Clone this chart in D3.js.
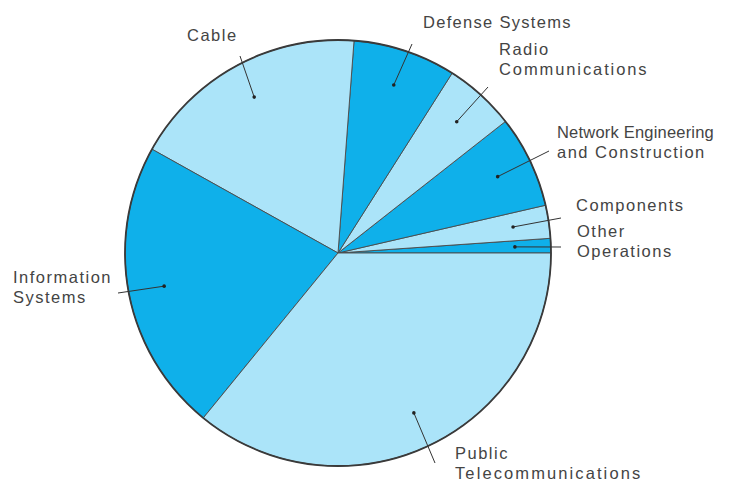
<!DOCTYPE html>
<html>
<head>
<meta charset="utf-8">
<script src="https://cdn.jsdelivr.net/npm/d3@7"></script>
<style>
  html, body { margin: 0; padding: 0; background: #ffffff; }
  svg { display: block; }
  .label { font-family: "Liberation Sans", Arial, Helvetica, sans-serif; font-size: 16.5px; fill: #444; }
</style>
</head>
<body>
<svg id="chart" width="741" height="483"></svg>
<script>
// Revenue shares by business segment (percent), in drawing order
// counter-clockwise from the 3 o'clock position.
const categories = [
  "Other Operations",
  "Components",
  "Network Engineering and Construction",
  "Radio Communications",
  "Defense Systems",
  "Cable",
  "Information Systems",
  "Public Telecommunications"
];
const shares = [1.1, 2.5, 7.0, 5.4, 7.8, 18.1, 22.2, 35.9];

// Label text, one entry per line
const labelLines = [
  ["Other", "Operations"],
  ["Components"],
  ["Network Engineering", "and Construction"],
  ["Radio", "Communications"],
  ["Defense Systems"],
  ["Cable"],
  ["Information", "Systems"],
  ["Public", "Telecommunications"]
];

// Label placement: leader-line end point, first baseline of text,
// and letter tracking for each text line
const labelLayout = {
  "Other Operations":                     { end: [561, 247], text: [577, 237], track: [1.5, 1.5] },
  "Components":                           { end: [561, 218], text: [576, 211], track: [1.5] },
  "Network Engineering and Construction": { end: [549, 151], text: [557, 138], track: [0.2, 1.5] },
  "Radio Communications":                 { end: [488, 87],  text: [499, 55],  track: [1.5, 1.9] },
  "Defense Systems":                      { end: [412, 44],  text: [423, 28],  track: [1.3] },
  "Cable":                                { end: [240, 56],  text: [187, 41],  track: [1.5] },
  "Information Systems":                  { end: [118, 293], text: [13, 283],  track: [1.5, 1.5] },
  "Public Telecommunications":            { end: [435, 463], text: [455, 459], track: [1.5, 2.1] }
};

const width = 741, height = 483;
const cx = 338, cy = 253, R = 213;
const dotR = 177;
const lineGap = 19.5;

const dark = "#0fb0ea", light = "#abe4f9";
const color = d3.scaleOrdinal()
  .domain(categories)
  .range(categories.map((c, i) => i % 2 === 0 ? dark : light));

const svg = d3.select("#chart");
const g = svg.append("g").attr("transform", `translate(${cx},${cy})`);

const pie = d3.pie()
  .sort(null)
  .value(d => d.value)
  .startAngle(Math.PI / 2)
  .endAngle(Math.PI / 2 - 2 * Math.PI);

const data = categories.map((c, i) => ({ name: c, value: shares[i], lines: labelLines[i] }));
const arcs = pie(data);
const arc = d3.arc().innerRadius(0).outerRadius(R);

g.selectAll("path.slice")
  .data(arcs)
  .join("path")
  .attr("class", "slice")
  .attr("d", arc)
  .attr("fill", d => color(d.data.name))
  .attr("stroke", "#4a4a4a")
  .attr("stroke-width", 0.9)
  .attr("stroke-linejoin", "round");

// outer rim
g.append("circle")
  .attr("r", R)
  .attr("fill", "none")
  .attr("stroke", "#3a3a3a")
  .attr("stroke-width", 1.8);

// leader lines and dots
const mid = d => (d.startAngle + d.endAngle) / 2;
const dotPos = d => [cx + Math.sin(mid(d)) * dotR, cy - Math.cos(mid(d)) * dotR];

svg.selectAll("line.leader")
  .data(arcs)
  .join("line")
  .attr("class", "leader")
  .attr("x1", d => dotPos(d)[0])
  .attr("y1", d => dotPos(d)[1])
  .attr("x2", d => labelLayout[d.data.name].end[0])
  .attr("y2", d => labelLayout[d.data.name].end[1])
  .attr("stroke", "#333")
  .attr("stroke-width", 1);

svg.selectAll("circle.dot")
  .data(arcs)
  .join("circle")
  .attr("class", "dot")
  .attr("cx", d => dotPos(d)[0])
  .attr("cy", d => dotPos(d)[1])
  .attr("r", 1.8)
  .attr("fill", "#222");

// labels
const labels = svg.selectAll("text.label")
  .data(arcs)
  .join("text")
  .attr("class", "label")
  .attr("x", d => labelLayout[d.data.name].text[0])
  .attr("y", d => labelLayout[d.data.name].text[1]);

labels.selectAll("tspan")
  .data(d => d.data.lines.map((t, i) => ({
    t, i,
    x: labelLayout[d.data.name].text[0],
    track: labelLayout[d.data.name].track[i]
  })))
  .join("tspan")
  .attr("x", d => d.x)
  .attr("dy", d => d.i === 0 ? 0 : lineGap)
  .style("letter-spacing", d => d.track + "px")
  .text(d => d.t);
</script>
</body>
</html>
